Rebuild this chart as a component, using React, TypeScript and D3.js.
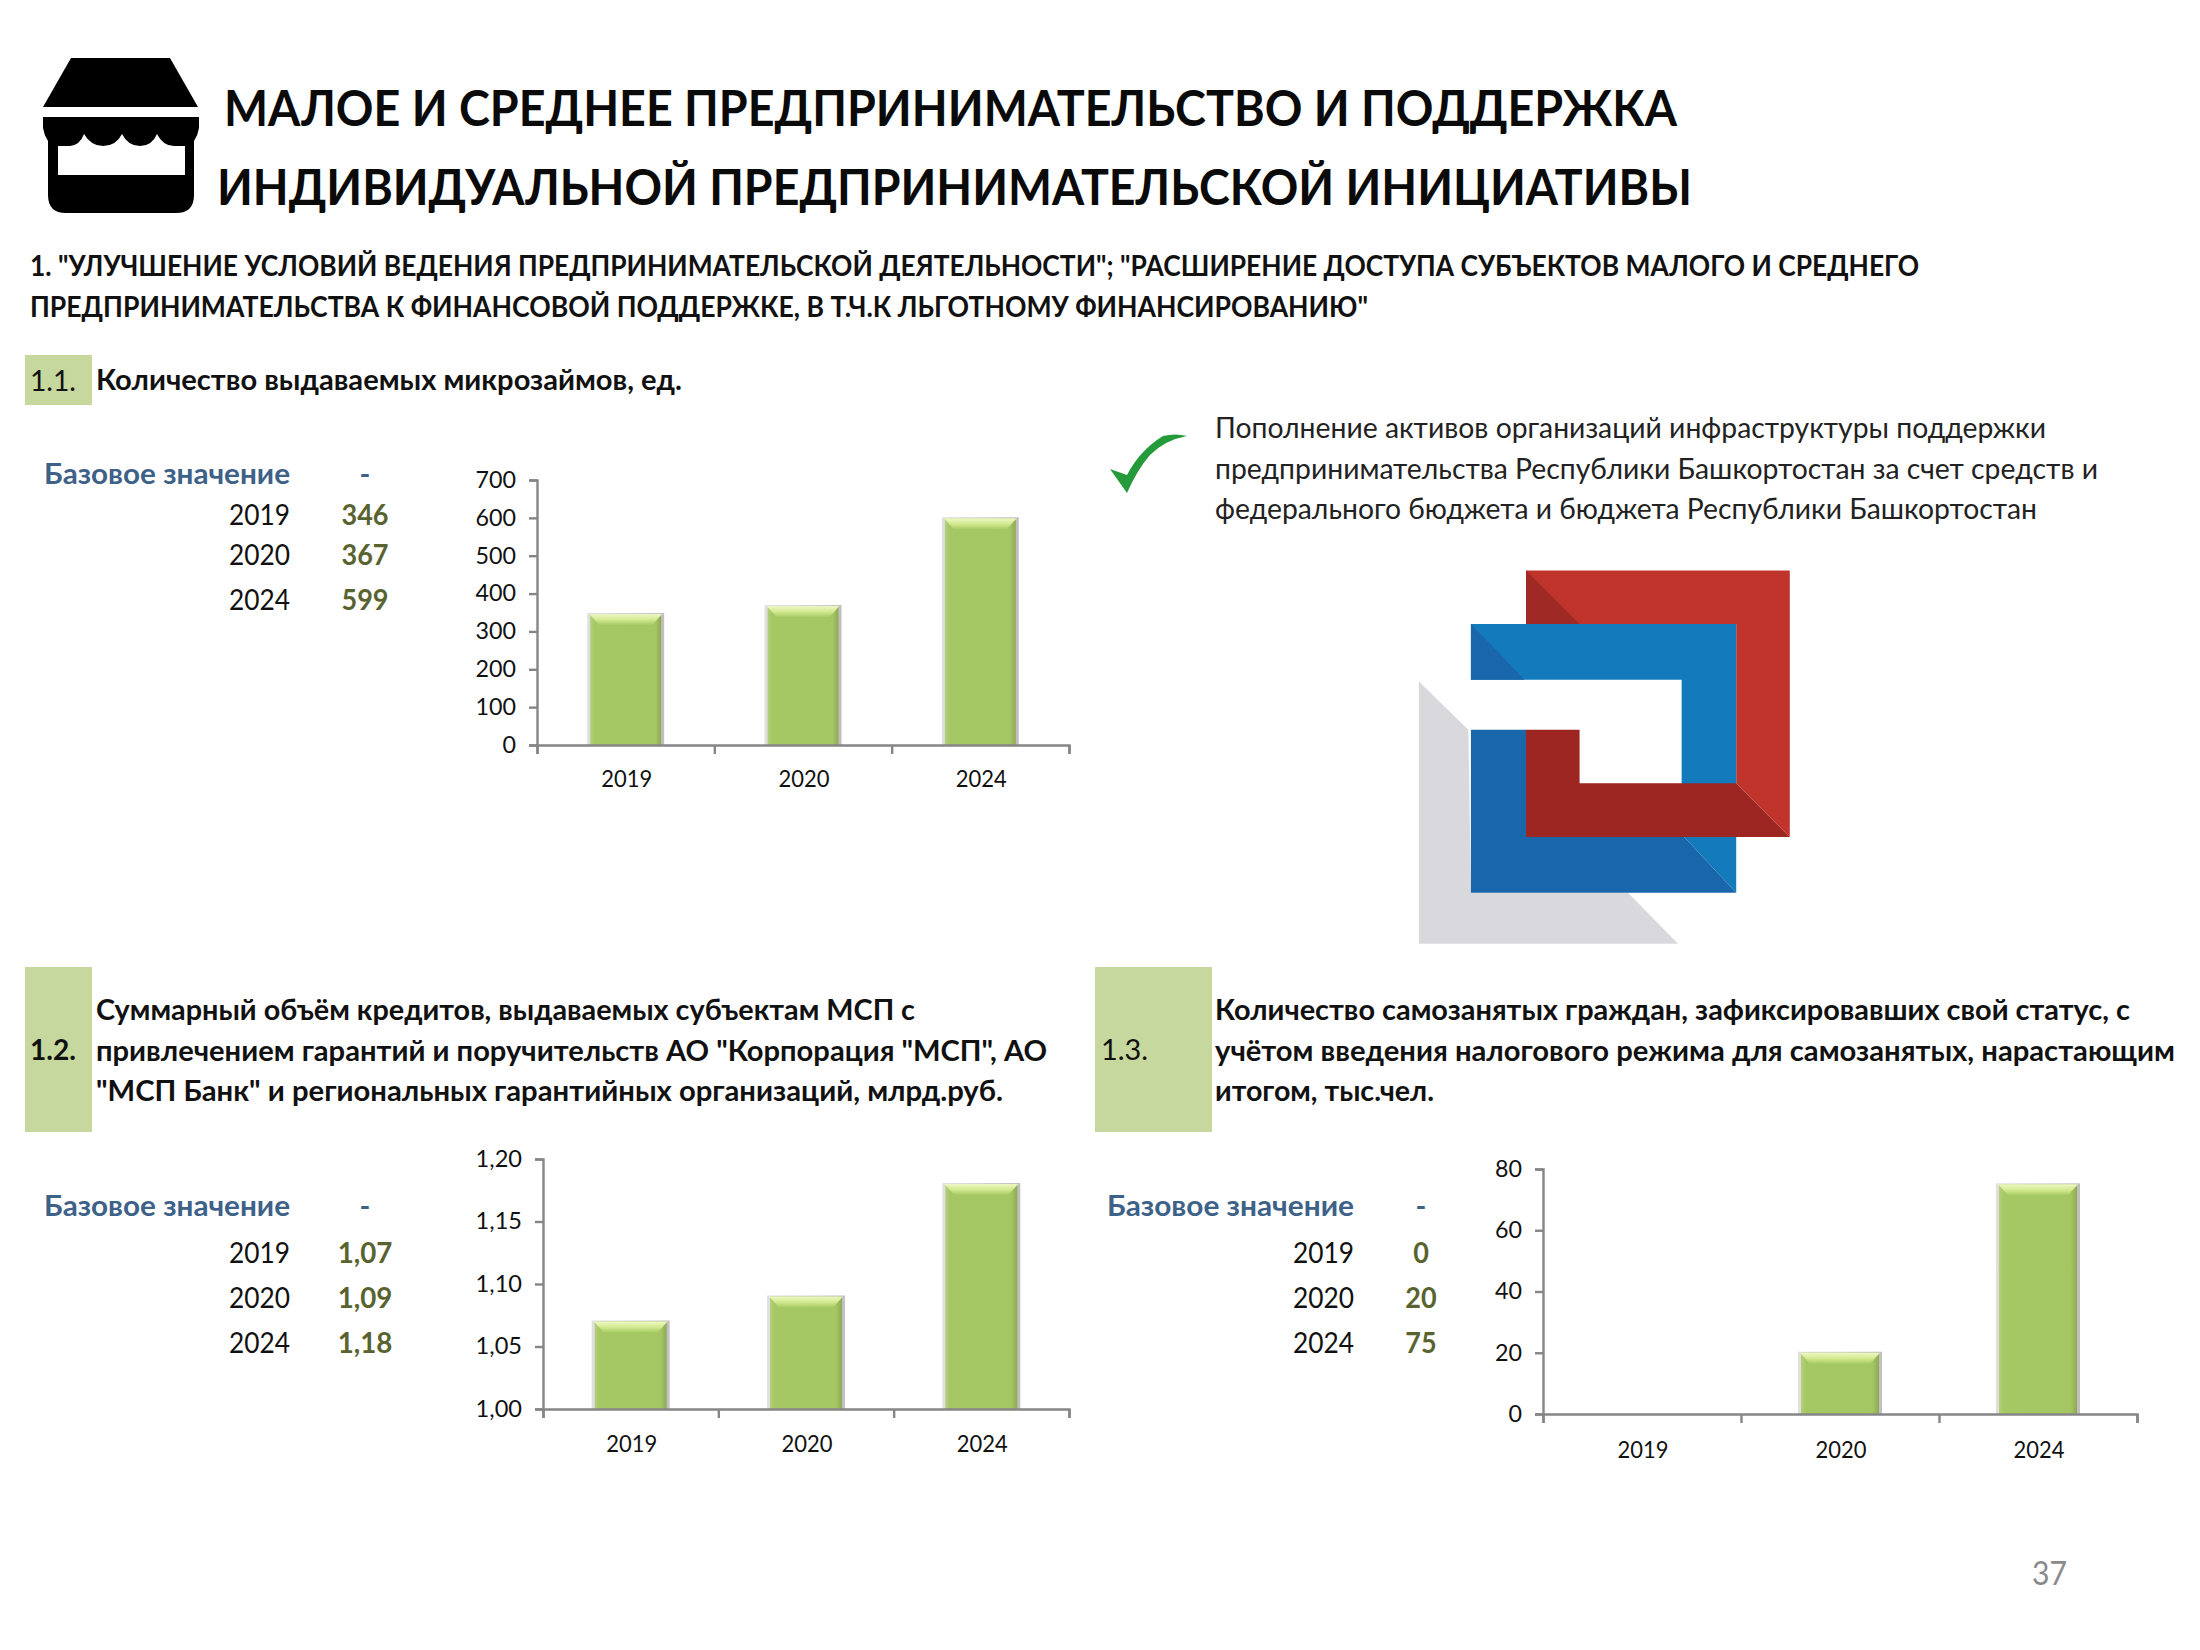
import React, { useEffect, useRef } from "react";
import * as d3 from "d3";

const FONT = "Lato, 'Open Sans', sans-serif";

const years = ["2019", "2020", "2024"];
const microloans = [346, 367, 599];
const credits = [1.07, 1.09, 1.18];
const selfEmployed = [0, 20, 75];

const microloanTicks = [0, 100, 200, 300, 400, 500, 600, 700];
const creditTicks = [1.0, 1.05, 1.1, 1.15, 1.2];
const selfEmployedTicks = [0, 20, 40, 60, 80];

const baseLabel = "Базовое значение";
const comma = (v: number) => d3.format(".2f")(v).replace(".", ",");
const plain = (v: number) => String(v);

type TProps = {
  x: number;
  y: number;
  w?: number;
  size?: number;
  bold?: boolean;
  fill?: string;
  anchor?: string;
  children: string;
};

// textLength keeps the line widths the same as in the slide
function T({ x, y, w, size = 28, bold = false, fill = "#111", anchor = "start", children }: TProps) {
  return (
    <text
      x={x}
      y={y}
      fontFamily={FONT}
      fontSize={size}
      fontWeight={bold ? 700 : 400}
      fill={fill}
      textAnchor={anchor}
      textLength={w}
      lengthAdjust={w ? "spacingAndGlyphs" : undefined}
    >
      {children}
    </text>
  );
}

type ChartProps = {
  values: number[];
  domain: [number, number];
  ticks: number[];
  format: (v: number) => string;
  left: number;
  right: number;
  top: number;
  bottom: number;
  padding: number;
  labelY: number;
  tickW: number;
};

function BarChart({ values, domain, ticks, format, left, right, top, bottom, padding, labelY, tickW }: ChartProps) {
  const ref = useRef<SVGGElement | null>(null);

  useEffect(() => {
    if (!ref.current) return;
    const g = d3.select(ref.current);
    g.selectAll("*").remove();

    const x = d3
      .scaleBand<string>()
      .domain(years)
      .range([left, right])
      .paddingInner(padding)
      .paddingOuter(padding / 2);
    const y = d3.scaleLinear().domain(domain).range([bottom, top]);

    const data = years
      .map((year, i) => ({ year, value: values[i] }))
      .filter((d) => d.value > domain[0]);

    const bars = g.selectAll("g.bar").data(data).join("g").attr("class", "bar");
    const bw = x.bandwidth();

    // grey halo left and right of the bar
    bars
      .append("rect")
      .attr("x", (d) => x(d.year)! - 3)
      .attr("y", (d) => y(d.value) - 1)
      .attr("width", bw + 6)
      .attr("height", (d) => bottom - y(d.value) + 2)
      .attr("fill", "url(#halo)");
    bars
      .append("rect")
      .attr("x", (d) => x(d.year)!)
      .attr("y", (d) => y(d.value))
      .attr("width", bw)
      .attr("height", (d) => bottom - y(d.value) + 1)
      .attr("fill", "url(#body)");
    // light bevel on top
    bars
      .append("path")
      .attr("d", (d) => {
        const x0 = x(d.year)!;
        const t = y(d.value);
        return `M${x0 - 1},${t} L${x0 + bw + 1},${t} L${x0 + bw - 9},${t + 11} L${x0 + 9},${t + 11} Z`;
      })
      .attr("fill", "url(#bevel)");

    const yAxis = g
      .append("g")
      .attr("transform", `translate(${left},0)`)
      .call(
        d3
          .axisLeft(y)
          .tickValues(ticks)
          .tickSize(8)
          .tickPadding(13)
          .tickFormat((d) => format(+d))
      );
    yAxis
      .selectAll("text")
      .attr("font-family", FONT)
      .attr("font-size", 23)
      .attr("fill", "#111")
      .attr("textLength", function () {
        return (d3.select(this).text().length * tickW).toFixed(1);
      })
      .attr("lengthAdjust", "spacingAndGlyphs");

    const edges = d3.scaleLinear().domain([0, years.length]).range([left, right]);
    const xLine = g
      .append("g")
      .attr("transform", `translate(0,${bottom})`)
      .call(
        d3
          .axisBottom(edges)
          .ticks(years.length)
          .tickSize(9)
          .tickFormat(() => "")
      );

    const xLabels = g
      .append("g")
      .attr("transform", `translate(1,${labelY})`)
      .call(d3.axisBottom(x).tickSize(0).tickPadding(0));
    xLabels.select(".domain").remove();
    xLabels
      .selectAll("text")
      .attr("font-family", FONT)
      .attr("font-size", 23)
      .attr("fill", "#111")
      .attr("dy", 0)
      .attr("y", 0)
      .attr("textLength", 51)
      .attr("lengthAdjust", "spacingAndGlyphs");

    [yAxis, xLine].forEach((a) => {
      a.selectAll("path,line").attr("stroke", "#868686").attr("stroke-width", 2.4);
    });
  }, [values, domain, ticks, format, left, right, top, bottom, padding, labelY, tickW]);

  return <g ref={ref} />;
}

type TableProps = {
  values: number[];
  format: (v: number) => string;
  labelX: number;
  yearX: number;
  valueX: number;
  headY: number;
  rowY: number[];
  valueW: number;
};

function ValueTable({ values, format, labelX, yearX, valueX, headY, rowY, valueW }: TableProps) {
  return (
    <g>
      <T x={labelX} y={headY} w={yearX - labelX} size={29} bold fill="#3e6188">
        {baseLabel}
      </T>
      <T x={valueX} y={headY} size={29} bold fill="#3e6188" anchor="middle">
        -
      </T>
      {years.map((year, i) => (
        <g key={year}>
          <T x={yearX} y={rowY[i]} w={61} size={29} anchor="end">
            {year}
          </T>
          <T
            x={valueX}
            y={rowY[i]}
            w={(format(values[i]).length / 3) * valueW}
            size={29}
            bold
            fill="#59632f"
            anchor="middle"
          >
            {format(values[i])}
          </T>
        </g>
      ))}
    </g>
  );
}

function ShopIcon() {
  return (
    <g>
      <path d="M71,58 L170,58 L198,107 L43,107 Z" fill="#000" />
      <path
        d="M43,117 L199,117 L199,128 Q198,135 194,141 L194,195 Q194,213 176,213 L66,213 Q48,213 48,195 L48,141 Q44,135 43,128 Z"
        fill="#000"
      />
      <path
        d="M58,146 L70,146 Q80,145 84,134 Q91,146 103,146 Q116,146 122,134 Q128,146 140,146 Q152,146 157,134 Q163,146 174,146 L185,146 L185,175 L58,175 Z"
        fill="#fff"
      />
    </g>
  );
}

// the logo is drawn in the coordinates of the crop, then moved on the page
function Logo() {
  return (
    <g transform="translate(1100,400) scale(0.5102,0.3704)">
      <path d="M625,760 L722,890 L727,1330 L1035,1330 L1133,1468 L625,1468 Z" fill="#d9d9dd" />
      <path d="M835,460 L1352,460 L1352,1180 L1247,1035 L1247,605 L835,605 Z" fill="#c1342b" />
      <path d="M835,460 L940,605 L835,605 Z" fill="#9f2a25" />
      <path d="M727,605 L1247,605 L1247,1330 L1145,1180 L1140,1035 L1140,755 L727,755 Z" fill="#137abc" />
      <path d="M727,605 L832,755 L727,755 Z" fill="#1a66aa" />
      <path d="M727,890 L835,890 L835,1180 L1145,1180 L1247,1330 L727,1330 Z" fill="#1a66aa" />
      <path d="M835,890 L940,890 L940,1035 L1247,1035 L1352,1180 L835,1180 Z" fill="#9e2622" />
    </g>
  );
}

function CheckMark() {
  return (
    <path
      d="M1110,469 L1127,475 Q1140,450 1163,436 Q1175,433 1187,436 Q1165,440 1150,455 Q1137,470 1127,493 Z"
      fill="#259a3a"
    />
  );
}

export default function App() {
  return (
    <svg
      width={2200}
      height={1650}
      style={{ position: "absolute", left: 0, top: 0, background: "#fff" }}
    >
      <defs>
        <linearGradient id="halo" x1="0" x2="1" y1="0" y2="0">
          <stop offset="0" stopColor="#e0e0e0" />
          <stop offset="0.5" stopColor="#d4d4d4" />
          <stop offset="1" stopColor="#bfbfbf" />
        </linearGradient>
        <linearGradient id="body" x1="0" x2="1" y1="0" y2="0">
          <stop offset="0" stopColor="#b4cf7f" />
          <stop offset="0.06" stopColor="#a6c864" />
          <stop offset="0.92" stopColor="#a4c663" />
          <stop offset="1" stopColor="#8fa954" />
        </linearGradient>
        <linearGradient id="bevel" x1="0" x2="0" y1="0" y2="1">
          <stop offset="0" stopColor="#eef8c4" />
          <stop offset="0.5" stopColor="#d4ea92" />
          <stop offset="1" stopColor="#a8cb63" />
        </linearGradient>
      </defs>

      <ShopIcon />
      <T x={224} y={126} w={1453} size={49} bold fill="#0a0a0a">
        МАЛОЕ И СРЕДНЕЕ ПРЕДПРИНИМАТЕЛЬСТВО И ПОДДЕРЖКА
      </T>
      <T x={217} y={205} w={1475} size={49} bold fill="#0a0a0a">
        ИНДИВИДУАЛЬНОЙ ПРЕДПРИНИМАТЕЛЬСКОЙ ИНИЦИАТИВЫ
      </T>
      <T x={30} y={276} w={1889} bold>
        {'1. "УЛУЧШЕНИЕ УСЛОВИЙ ВЕДЕНИЯ ПРЕДПРИНИМАТЕЛЬСКОЙ ДЕЯТЕЛЬНОСТИ"; "РАСШИРЕНИЕ ДОСТУПА СУБЪЕКТОВ МАЛОГО И СРЕДНЕГО'}
      </T>
      <T x={30} y={317} w={1338} bold>
        {'ПРЕДПРИНИМАТЕЛЬСТВА К ФИНАНСОВОЙ ПОДДЕРЖКЕ, В Т.Ч.К ЛЬГОТНОМУ ФИНАНСИРОВАНИЮ"'}
      </T>

      {/* 1.1 */}
      <rect x={25} y={355} width={67} height={50} fill="#c6d89d" />
      <T x={30} y={391} w={46} size={29}>1.1.</T>
      <T x={96} y={390} w={586} bold>
        Количество выдаваемых микрозаймов, ед.
      </T>
      <ValueTable
        values={microloans}
        format={plain}
        labelX={44}
        yearX={290}
        valueX={365}
        headY={484}
        rowY={[525, 565, 610]}
        valueW={47}
      />
      <BarChart
        values={microloans}
        domain={[0, 700]}
        ticks={microloanTicks}
        format={plain}
        left={537}
        right={1069}
        top={480}
        bottom={745}
        padding={0.6}
        labelY={787}
        tickW={13.5}
      />

      <CheckMark />
      <T x={1215} y={438} w={831} size={29} fill="#222">
        Пополнение активов организаций инфраструктуры поддержки
      </T>
      <T x={1215} y={479} w={883} size={29} fill="#222">
        предпринимательства Республики Башкортостан за счет средств и
      </T>
      <T x={1215} y={519} w={822} size={29} fill="#222">
        федерального бюджета и бюджета Республики Башкортостан
      </T>
      <Logo />

      {/* 1.2 */}
      <rect x={25} y={967} width={67} height={165} fill="#c6d89d" />
      <T x={30} y={1060} w={46} size={29} bold>1.2.</T>
      <T x={96} y={1020} w={819} bold>
        Суммарный объём кредитов, выдаваемых субъектам МСП с
      </T>
      <T x={96} y={1061} w={951} bold>
        {'привлечением гарантий и поручительств АО "Корпорация "МСП", АО'}
      </T>
      <T x={96} y={1101} w={907} bold>
        {'"МСП Банк" и региональных гарантийных организаций, млрд.руб.'}
      </T>
      <ValueTable
        values={credits}
        format={comma}
        labelX={44}
        yearX={290}
        valueX={365}
        headY={1216}
        rowY={[1263, 1308, 1353]}
        valueW={41}
      />
      <BarChart
        values={credits}
        domain={[1, 1.2]}
        ticks={creditTicks}
        format={comma}
        left={543}
        right={1069}
        top={1159}
        bottom={1409}
        padding={0.59}
        labelY={1452}
        tickW={11.6}
      />

      {/* 1.3 */}
      <rect x={1095} y={967} width={117} height={165} fill="#c6d89d" />
      <T x={1101} y={1060} w={47} size={29}>1.3.</T>
      <T x={1215} y={1020} w={915} bold>
        Количество самозанятых граждан, зафиксировавших свой статус, с
      </T>
      <T x={1215} y={1061} w={960} bold>
        учётом введения налогового режима для самозанятых, нарастающим
      </T>
      <T x={1215} y={1101} w={219} bold>
        итогом, тыс.чел.
      </T>
      <ValueTable
        values={selfEmployed}
        format={plain}
        labelX={1107}
        yearX={1354}
        valueX={1421}
        headY={1216}
        rowY={[1263, 1308, 1353]}
        valueW={47}
      />
      <BarChart
        values={selfEmployed}
        domain={[0, 80]}
        ticks={selfEmployedTicks}
        format={plain}
        left={1543}
        right={2137}
        top={1169}
        bottom={1414}
        padding={0.606}
        labelY={1458}
        tickW={13.5}
      />

      <T x={2032} y={1585} w={35} size={33} fill="#8a8a8a">37</T>
    </svg>
  );
}
